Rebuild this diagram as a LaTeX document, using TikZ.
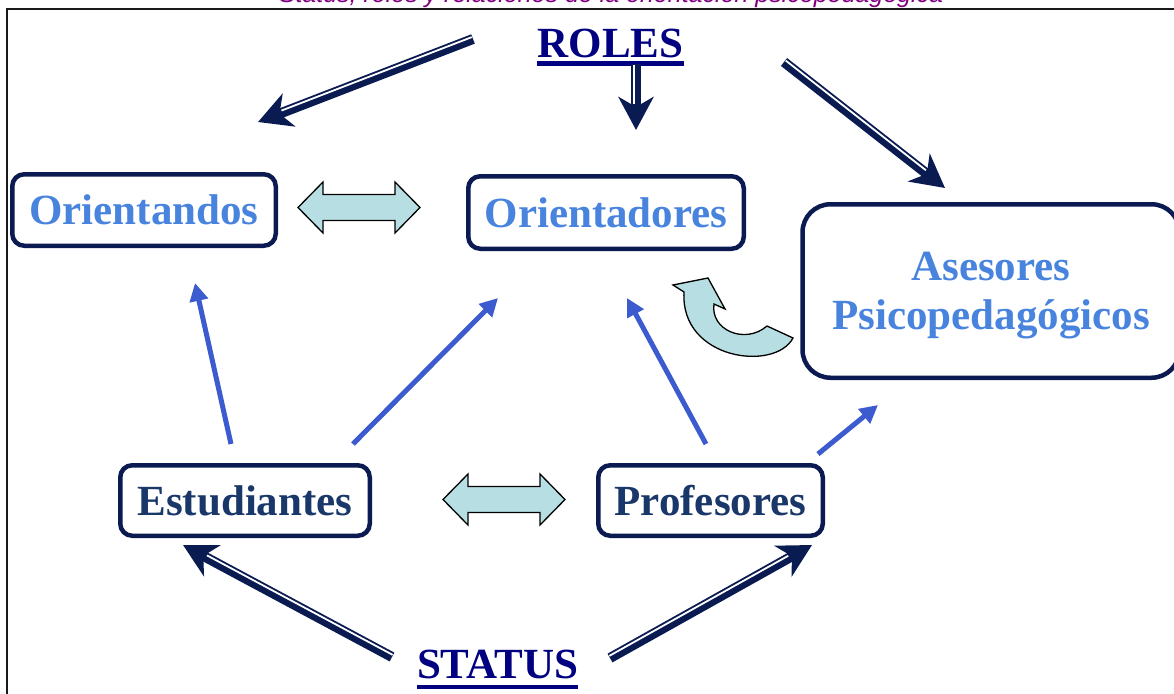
\documentclass[tikz,border=0pt]{standalone}
\usepackage{fontspec}
\setmainfont{Liberation Serif}
\newfontfamily\capfont{Liberation Sans}
\usetikzlibrary{arrows.meta,calc}
\definecolor{boxnavy}{RGB}{12,26,82}
\definecolor{arrnavy}{RGB}{10,27,82}
\definecolor{titlenavy}{RGB}{0,0,128}
\definecolor{lblue}{RGB}{72,132,222}
\definecolor{dblue}{RGB}{25,55,105}
\definecolor{arrblue}{RGB}{59,91,206}
\definecolor{fatfill}{RGB}{183,222,226}
\definecolor{capcol}{RGB}{128,0,128}
\newcommand{\navyarrow}[3]{%
  \draw[navyshaft] (#1) -- (#2);
  \coordinate (nvS) at ($(#1)!0.5pt!(#2)$);
  \coordinate (nvE) at ($(#2)!26pt!(#1)$);
  \draw[white, line width=1.8pt] ($(nvS)!2.2pt!#3:(#2)$) -- ($(nvE)!2.2pt!#3:(#2)$);
}
\begin{document}
\begin{tikzpicture}[x=1pt,y=-1pt,
  box/.style={draw=boxnavy, line width=4.5pt, rounded corners=12pt, fill=white,
    inner sep=0pt, font=\bfseries\fontsize{43}{49}\selectfont},
  title/.style={inner sep=0pt, anchor=base, text=titlenavy, font=\bfseries\fontsize{43}{49}\selectfont},
  ul/.style={draw=titlenavy, line width=4.5pt},
  navyshaft/.style={draw=arrnavy, line width=10pt, -{Stealth[length=33pt,width=35pt,inset=10pt]}},
  bluearr/.style={draw=arrblue, line width=5pt, -{Triangle[length=18pt,width=18pt]}},
  fatarrow/.style={draw=black, line width=1.3pt, fill=fatfill, line join=miter},
  dblarrow/.pic={\draw[fatarrow] (-61,0) -- (-36,-25.5) -- (-36,-13) -- (36,-13) -- (36,-25.5) -- (61,0) -- (36,25.5) -- (36,13) -- (-36,13) -- (-36,25.5) -- cycle;}
]
\useasboundingbox (0,0) rectangle (1174,693);
% caption (cut by the top edge, as in the reference)
\node[anchor=base, inner sep=0pt, text=capcol, font=\capfont\itshape\fontsize{25}{28}\selectfont] (caption) at (611,3) {Status, roles y relaciones de la orientación psicopedagógica};
% frame
\draw[line width=2.5pt, black!90] (7,720) -- (7,9) -- (1200,9);

% boxes
\node[box, text=lblue, minimum width=263.5pt, minimum height=71.5pt] (orientandos) at (144,210) {Orientandos};
\node[box, text=lblue, minimum width=275.5pt, minimum height=72.5pt] (orientadores) at (606,212.5) {Orientadores};
\node[box, text=lblue, rounded corners=28pt, minimum width=377pt, minimum height=173.5pt, align=center, text depth=0pt] (asesores) at (991,291) {Asesores\\Psicopedagógicos};
\node[box, text=dblue, minimum width=249.5pt, minimum height=70.5pt] (estudiantes) at (245,500.5) {Estudiantes};
\node[box, text=dblue, minimum width=224.5pt, minimum height=70.5pt] (profesores) at (710.5,500.5) {Profesores};

% titles
\node[title] (roles) at (610.5,57) {ROLES};
\draw[ul] ([yshift=-6.3pt]roles.base west) -- ([yshift=-6.3pt]roles.base east);
\node[title] (status) at (497.5,678) {STATUS};
\draw[ul] ([yshift=-9pt]status.base west) -- ([yshift=-9pt]status.base east);

% navy double arrows
\coordinate (r1s) at (473,39);  \coordinate (r1t) at (258,122);
\coordinate (r2s) at (636,64);  \coordinate (r2t) at (636,130);
\coordinate (r3s) at (784,62);  \coordinate (r3t) at (945,188);
\coordinate (s1s) at (392,657); \coordinate (s1t) at (183,545);
\coordinate (s2s) at (610,658); \coordinate (s2t) at (812,545);
\navyarrow{r1s}{r1t}{-90}
\navyarrow{r2s}{r2t}{-90}
\navyarrow{r3s}{r3t}{90}
\navyarrow{s1s}{s1t}{-90}
\navyarrow{s2s}{s2t}{90}

% blue arrows
\coordinate (b1s) at (231,444); \coordinate (b1t) at (195,283);
\coordinate (b2s) at (353,444); \coordinate (b2t) at (498,298);
\coordinate (b3s) at (706,444); \coordinate (b3t) at (627,298);
\coordinate (b4s) at (818,454); \coordinate (b4t) at (878,405);
\draw[bluearr] (b1s) -- (b1t);
\draw[bluearr] (b2s) -- (b2t);
\draw[bluearr] (b3s) -- (b3t);
\draw[bluearr] (b4s) -- (b4t);

% light double arrows
\pic (da1) at (359,207.5) {dblarrow};
\pic (da2) at (504,499.5) {dblarrow};

% curved arrow
\draw[fatarrow] (673,285) -- (708,278) -- (725,309) -- (714,304)
  .. controls (710,330) and (745,345) .. (767,326)
  -- (793,338)
  .. controls (775,372) and (680,360) .. (684,292)
  -- cycle;
\end{tikzpicture}
\end{document}
